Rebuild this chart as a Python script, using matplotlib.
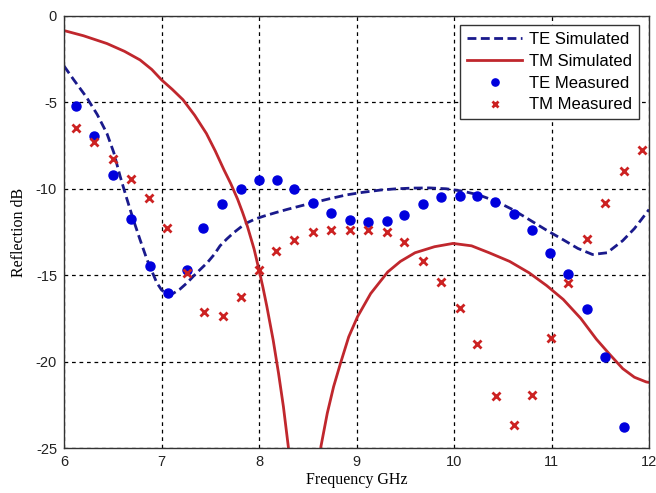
import numpy as np
import matplotlib
matplotlib.use('Agg')
import matplotlib.pyplot as plt

plt.rcParams['axes.unicode_minus'] = False

# Simulated curves
te_sim_f = [6.0, 6.1, 6.23, 6.34, 6.44, 6.51, 6.575, 6.64, 6.71, 6.78, 6.85, 6.95, 7.0, 7.06, 7.12,
            7.19, 7.26, 7.33, 7.4, 7.47, 7.54, 7.6, 7.67, 7.74, 7.81, 7.88, 7.96, 8.05, 8.17, 8.29,
            8.42, 8.56, 8.72, 8.9, 9.07, 9.25, 9.41, 9.58, 9.75, 9.92, 10.09, 10.25, 10.43, 10.6,
            10.77, 10.95, 11.12, 11.27, 11.42, 11.57, 11.73, 11.85, 12.0]
te_sim_db = [-2.9, -3.7, -4.7, -5.7, -6.8, -7.9, -9.27, -10.5, -11.77, -12.95, -14.08, -15.42, -15.85, -16.1, -16.05,
             -15.8, -15.45, -15.04, -14.65, -14.27, -13.8, -13.3, -12.9, -12.54, -12.23, -11.96, -11.75, -11.58, -11.38, -11.19,
             -11.0, -10.8, -10.58, -10.35, -10.2, -10.07, -10.0, -9.96, -9.95, -10.0, -10.14, -10.35, -10.72, -11.2,
             -11.78, -12.4, -12.95, -13.45, -13.8, -13.7, -13.0, -12.3, -11.2]

tm_sim_f = [6.0, 6.2, 6.44, 6.62, 6.78, 6.9, 7.0, 7.11, 7.22, 7.34, 7.46, 7.55, 7.64, 7.71, 7.78,
            7.83, 7.88, 7.95, 8.0, 8.04, 8.08, 8.145, 8.2, 8.25, 8.3, 8.32, 8.45, 8.62, 8.635, 8.7,
            8.765, 8.835, 8.92, 9.01, 9.145, 9.32, 9.45, 9.6, 9.8, 9.99, 10.18, 10.36, 10.57, 10.77,
            10.95, 11.12, 11.3, 11.46, 11.6, 11.73, 11.85, 11.97, 12.0]
tm_sim_db = [-0.85, -1.15, -1.6, -2.05, -2.55, -3.1, -3.7, -4.25, -4.85, -5.75, -6.8, -7.8, -8.9, -9.7, -10.6,
             -11.35, -12.16, -13.5, -14.7, -15.7, -16.8, -18.75, -20.67, -22.6, -24.9, -26.0, -35.0, -26.5, -24.9, -22.98,
             -21.44, -20.1, -18.56, -17.4, -16.06, -14.81, -14.2, -13.7, -13.35, -13.16, -13.3, -13.7, -14.2, -14.86,
             -15.6, -16.4, -17.5, -18.7, -19.6, -20.4, -20.9, -21.17, -21.2]

# Measured points
te_meas_f = [6.12, 6.31, 6.5, 6.69, 6.88, 7.07, 7.26, 7.43, 7.62, 7.81, 8.0, 8.18, 8.36, 8.55, 8.74,
             8.93, 9.12, 9.31, 9.49, 9.68, 9.87, 10.06, 10.24, 10.42, 10.61, 10.8, 10.98, 11.17,
             11.36, 11.55, 11.74]
te_meas_db = [-5.2, -6.97, -9.2, -11.72, -14.47, -16.0, -14.67, -12.28, -10.87, -10.03, -9.49, -9.49, -10.03, -10.8, -11.38,
              -11.78, -11.93, -11.85, -11.53, -10.9, -10.47, -10.39, -10.39, -10.74, -11.43, -12.41, -13.7, -14.95,
              -16.93, -19.73, -23.75]

tm_meas_f = [6.12, 6.31, 6.5, 6.69, 6.87, 7.06, 7.26, 7.44, 7.63, 7.81, 8.0, 8.17, 8.36, 8.55, 8.74,
             8.93, 9.12, 9.31, 9.49, 9.68, 9.87, 10.06, 10.24, 10.43, 10.61, 10.8, 10.99, 11.17,
             11.36, 11.55, 11.74, 11.93]
tm_meas_db = [-6.47, -7.31, -8.28, -9.43, -10.53, -12.24, -14.86, -17.13, -17.36, -16.24, -14.7, -13.57, -12.95, -12.51, -12.36,
              -12.36, -12.36, -12.51, -13.06, -14.18, -15.4, -16.88, -18.96, -21.98, -23.67, -21.92, -18.61, -15.47,
              -12.93, -10.81, -8.99, -7.74]

fig = plt.figure(figsize=(6.56, 4.93), dpi=100)
ax = fig.add_axes([0.0976, 0.091, 0.8918, 0.8768])

ax.plot(te_sim_f, te_sim_db, color='#1a1a8c', linestyle=(0, (3.2, 1.6)), linewidth=2.0, label='TE Simulated')
ax.plot(tm_sim_f, tm_sim_db, color='#c0272d', linestyle='-', linewidth=2.0, label='TM Simulated')
ax.plot(te_meas_f, te_meas_db, linestyle='none', marker='o', markersize=6.5, color='#0000dd',
        label='TE Measured')
ax.plot(tm_meas_f, tm_meas_db, linestyle='none', marker='x', markersize=6, markeredgewidth=2.0,
        color='#cc2222', label='TM Measured')

ax.set_xlim(6, 12)
ax.set_ylim(-25, 0)
ax.set_xticks(np.arange(6, 13, 1))
ax.set_yticks(np.arange(-25, 1, 5))

ax.grid(True, color='black', linestyle=(0, (3, 3)), linewidth=0.9)
for sp in ax.spines.values():
    sp.set_color('#333333')
    sp.set_linewidth(1.0)

ax.tick_params(direction='in', length=0, labelsize=10.5, pad=5)
for lbl in ax.get_xticklabels() + ax.get_yticklabels():
    lbl.set_fontfamily('Liberation Sans')
    lbl.set_color('#222222')

ax.set_xlabel('Frequency GHz', fontfamily='Liberation Serif', fontsize=11.5, labelpad=2)
ax.set_ylabel('Reflection dB', fontfamily='Liberation Serif', fontsize=11.5, labelpad=6)

leg = ax.legend(loc='upper right', bbox_to_anchor=(0.983, 0.979), prop={'family': 'Liberation Sans', 'size': 12},
                frameon=True, fancybox=False, framealpha=1, edgecolor='#333333', markerscale=0.8,
                handlelength=3.3, handletextpad=0.4, borderpad=0.42, labelspacing=0.41, borderaxespad=0)
leg.get_frame().set_linewidth(1.0)

fig.savefig('out.png', dpi=100)
